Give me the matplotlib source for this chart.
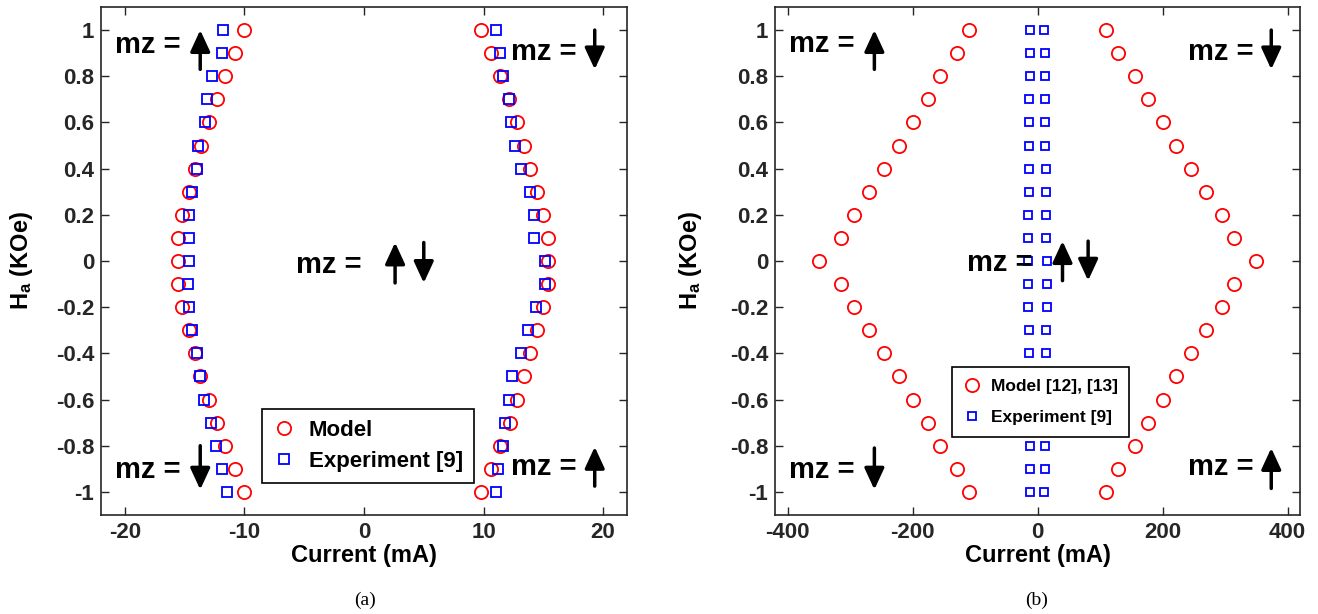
import matplotlib
matplotlib.use("Agg")
import matplotlib.pyplot as plt

plt.rcParams["font.family"] = ["Liberation Sans", "DejaVu Sans"]
plt.rcParams["font.weight"] = "bold"
plt.rcParams["axes.labelweight"] = "bold"
plt.rcParams["mathtext.fontset"] = "custom"
plt.rcParams["mathtext.bf"] = "Liberation Sans:bold"
plt.rcParams["mathtext.rm"] = "Liberation Sans:bold"

# applied field (KOe), shared by every series
h_field = [1.0, 0.9, 0.8, 0.7, 0.6, 0.5, 0.4, 0.3, 0.2, 0.1, 0.0,
           -0.1, -0.2, -0.3, -0.4, -0.5, -0.6, -0.7, -0.8, -0.9, -1.0]

# (a) model, switching currents (mA)
model_a_neg = [-10.0, -10.8, -11.6, -12.3, -13.0, -13.6, -14.1, -14.6, -15.2, -15.6, -15.6,
               -15.6, -15.2, -14.6, -14.1, -13.7, -13.0, -12.3, -11.6, -10.8, -10.0]
model_a_pos = [9.8, 10.6, 11.4, 12.1, 12.8, 13.4, 13.9, 14.5, 15.0, 15.4, 15.4,
               15.4, 15.0, 14.5, 13.9, 13.4, 12.8, 12.2, 11.4, 10.6, 9.8]

# experiment [9] (mA), used in both panels
exp_neg = [-11.8, -11.9, -12.7, -13.1, -13.3, -13.9, -14.0, -14.4, -14.6, -14.6, -14.6,
           -14.7, -14.6, -14.4, -14.0, -13.7, -13.4, -12.8, -12.4, -11.9, -11.5]
exp_pos = [11.0, 11.4, 11.6, 12.1, 12.3, 12.6, 13.1, 13.9, 14.2, 14.2, 15.1,
           15.1, 14.4, 13.7, 13.1, 12.4, 12.1, 11.8, 11.6, 11.2, 11.0]

# (b) model [12], [13] (mA)
model_b_neg = [-110, -129, -156, -175, -200, -221, -245, -269, -294, -314, -349,
               -314, -294, -269, -245, -221, -200, -175, -156, -129, -110]
model_b_pos = [110, 129, 156, 176, 201, 221, 245, 270, 295, 315, 349,
               315, 295, 270, 245, 221, 201, 176, 156, 129, 110]

yticks = [1.0, 0.8, 0.6, 0.4, 0.2, 0.0, -0.2, -0.4, -0.6, -0.8, -1.0]
ytick_labels = ["1", "0.8", "0.6", "0.4", "0.2", "0", "-0.2", "-0.4", "-0.6", "-0.8", "-1"]
xticks_a = [-20, -10, 0, 10, 20]
xticks_b = [-400, -200, 0, 200, 400]

fig = plt.figure(figsize=(13.18, 6.14), dpi=100)
ax_a = fig.add_axes([101 / 1318, 99 / 614, 526 / 1318, 508 / 614])
ax_b = fig.add_axes([775 / 1318, 99 / 614, 525 / 1318, 508 / 614])


def style_axes(ax, xticks, xlim):
    ax.set_xlim(*xlim)
    ax.set_ylim(-1.1, 1.1)
    ax.set_xticks(xticks)
    ax.set_xticklabels([str(t) for t in xticks])
    ax.set_yticks(yticks)
    ax.set_yticklabels(ytick_labels)
    ax.tick_params(direction="in", length=6, width=1, top=True, right=True,
                   labelsize=16, colors="#262626", pad=5)
    for sp in ax.spines.values():
        sp.set_linewidth(1.2)
        sp.set_color("#262626")
    ax.set_xlabel("Current (mA)", fontsize=17, labelpad=1)
    ax.set_ylabel(r"$\mathbf{H_a}$ (KOe)", fontsize=17)


def arrow(ax, x, y0, y1):
    ax.annotate("", xy=(x, y1), xytext=(x, y0),
                arrowprops=dict(arrowstyle="-|>,head_length=0.65,head_width=0.3",
                                lw=2.5, color="k", mutation_scale=20,
                                shrinkA=0, shrinkB=0))


def mz(ax, x, y):
    ax.text(x, y, "mz =", fontsize=21, ha="left", va="center")


circle = dict(marker="o", ls="none", mfc="none", mec="red", mew=1.3)
square = dict(marker="s", ls="none", mfc="none", mec="blue", mew=1.3)

# ---- panel (a)
ax = ax_a
m1, = ax.plot(model_a_neg, h_field, ms=9.5, **circle)
ax.plot(model_a_pos, h_field, ms=9.5, **circle)
e1, = ax.plot(exp_neg, h_field, ms=7.5, **square)
ax.plot(exp_pos, h_field, ms=7.5, **square)
style_axes(ax, xticks_a, (-22, 22))
ax.yaxis.set_label_coords(-0.125, 0.5)

mz(ax, -20.8, 0.935); arrow(ax, -13.7, 0.83, 1.0)
mz(ax, 12.3, 0.905); arrow(ax, 19.3, 1.0, 0.83)
mz(ax, -5.7, -0.017); arrow(ax, 2.6, -0.095, 0.08); arrow(ax, 5.0, 0.08, -0.095)
mz(ax, -20.8, -0.905); arrow(ax, -13.7, -0.8, -0.99)
mz(ax, 12.3, -0.89); arrow(ax, 19.3, -0.975, -0.805)

leg = ax.legend([m1, e1], ["Model", "Experiment [9]"], loc="lower left",
                bbox_to_anchor=(0.306, 0.063), borderaxespad=0, fontsize=16,
                fancybox=False, framealpha=1, edgecolor="k", handlelength=1.0,
                handletextpad=0.6, borderpad=0.5, labelspacing=0.45)
leg.get_frame().set_linewidth(1.2)

# ---- panel (b)
ax = ax_b
m2, = ax.plot(model_b_neg, h_field, ms=9.5, **circle)
ax.plot(model_b_pos, h_field, ms=9.5, **circle)
e2, = ax.plot(exp_neg, h_field, ms=5.5, **square)
ax.plot(exp_pos, h_field, ms=5.5, **square)
style_axes(ax, xticks_b, (-420, 420))
ax.yaxis.set_label_coords(-0.135, 0.5)

mz(ax, -397, 0.94); arrow(ax, -261, 0.83, 1.0)
mz(ax, 240, 0.905); arrow(ax, 374, 1.0, 0.83)
mz(ax, -113, -0.007); arrow(ax, 40, -0.085, 0.086); arrow(ax, 81, 0.086, -0.085)
mz(ax, -397, -0.905); arrow(ax, -261, -0.81, -0.99)
mz(ax, 240, -0.89); arrow(ax, 374, -0.985, -0.81)

leg = ax.legend([m2, e2], ["Model [12], [13]", "Experiment [9]"], loc="lower left",
                bbox_to_anchor=(0.337, 0.154), borderaxespad=0, fontsize=12.5,
                fancybox=False, framealpha=1, edgecolor="k", handlelength=1.0,
                handletextpad=0.6, borderpad=0.65, labelspacing=0.95)
leg.get_frame().set_linewidth(1.2)

# captions
fig.text(365 / 1318, 1 - 600 / 614, "(a)", ha="center", va="center",
         fontsize=14, fontweight="normal", family="Liberation Serif")
fig.text(1037 / 1318, 1 - 600 / 614, "(b)", ha="center", va="center",
         fontsize=14, fontweight="normal", family="Liberation Serif")

fig.savefig("out.png", dpi=100)
